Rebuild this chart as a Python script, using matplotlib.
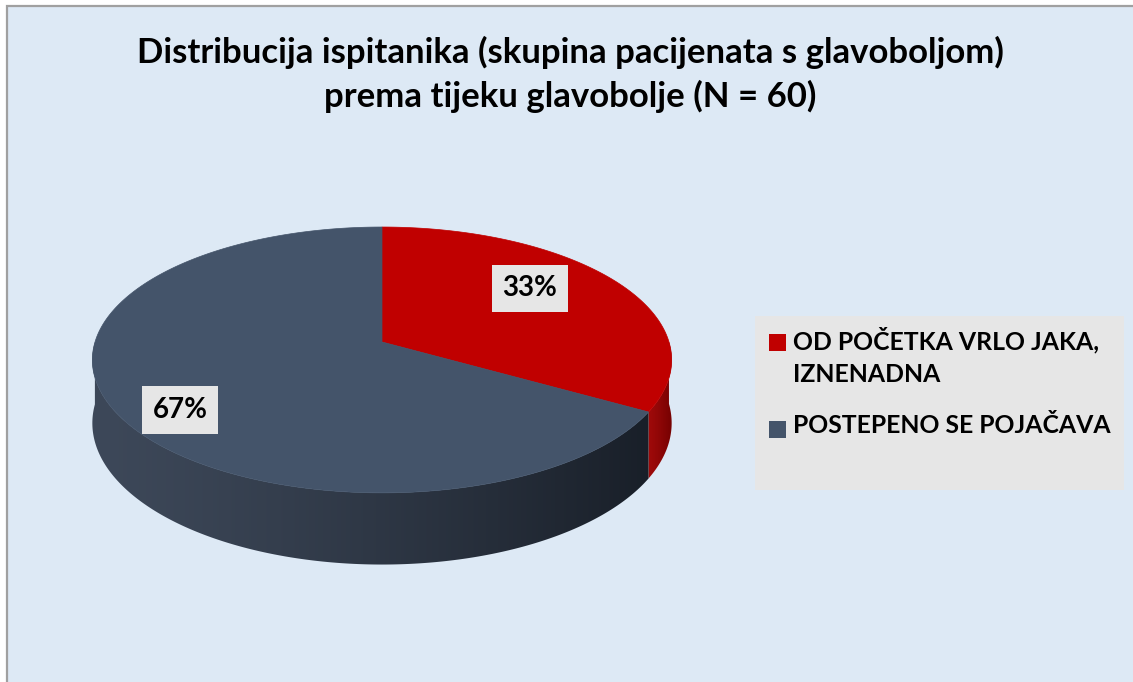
import numpy as np
import matplotlib
matplotlib.use('Agg')
import matplotlib.pyplot as plt
from matplotlib.patches import Polygon, Rectangle
from matplotlib.colors import to_rgb

# data
title = 'Distribucija ispitanika (skupina pacijenata s glavoboljom)\nprema tijeku glavobolje (N = 60)'
categories = ['OD POČETKA VRLO JAKA,\nIZNENADNA', 'POSTEPENO SE POJAČAVA']
counts = [20, 40]
colors = ['#c00000', '#44546a']
side_light = ['#a00a0a', '#3d4859']
side_dark = ['#6e0000', '#171d26']

FONT = 'Lato'
BG = '#dde9f5'

# 3d pie geometry (pixels)
CX, CY = 382, 342
A, B = 287, 130.5
P = 0.135
DEPTH = 62
LABEL_R = [0.62, 0.77]
LABEL_DY = [-15, 15]


def proj(theta, r=1.0, depth=0.0):
    z = r * np.sin(theta)
    s = 1.0 / (1.0 + P * z)
    x = CX + A * r * np.cos(theta) * s
    y = CY - B * r * np.sin(theta) * s + depth * s
    return x, y


def gradient(c1, c2, n=256):
    c1, c2 = np.array(to_rgb(c1)), np.array(to_rgb(c2))
    t = np.linspace(0, 1, n) ** 1.3
    return (c1[None, :] + (c2 - c1)[None, :] * t[:, None])[None, :, :]


fig = plt.figure(figsize=(11.33, 6.82), dpi=100)
fig.patch.set_facecolor('white')
ax = fig.add_axes([0, 0, 1, 1])
ax.set_xlim(0, 1133)
ax.set_ylim(682, 0)
ax.axis('off')

ax.add_patch(Rectangle((7, 6), 1140, 700, facecolor=BG, edgecolor='#a0a0a0', lw=1.6, zorder=0))

total = sum(counts)
fracs = [c / total for c in counts]
starts = []
a0 = np.pi / 2
for f in fracs:
    starts.append((a0, a0 - 2 * np.pi * f))
    a0 = a0 - 2 * np.pi * f

# sides (front half only), shaded left to right
for i, (t0, t1) in enumerate(starts):
    th = np.linspace(t0, t1, 600)
    th = th[np.sin(th) <= 0.001]
    if len(th) < 2:
        continue
    xt, yt = proj(th)
    xb, yb = proj(th, depth=DEPTH)
    pts = list(zip(xt, yt)) + list(zip(xb[::-1], yb[::-1]))
    poly = Polygon(pts, closed=True, facecolor='none', edgecolor='none')
    ax.add_patch(poly)
    if i == 0:
        ext = (xt.min() - 2, xt.max() + 2, 600, 300)
    else:
        ext = (CX - A - 5, CX + A + 5, 600, 300)
    im = ax.imshow(gradient(side_light[i], side_dark[i]), extent=ext,
                   aspect='auto', interpolation='bilinear', zorder=2)
    im.set_clip_path(poly)

ax.set_xlim(0, 1133)
ax.set_ylim(682, 0)

# top face
for i, (t0, t1) in enumerate(starts):
    th = np.linspace(t0, t1, 300)
    xs, ys = proj(th)
    pts = [(CX, CY)] + list(zip(xs, ys))
    ax.add_patch(Polygon(pts, closed=True, facecolor=colors[i], edgecolor=colors[i], lw=0.5, zorder=3))

# data labels
for i, (t0, t1) in enumerate(starts):
    mid = (t0 + t1) / 2
    lx, ly = proj(mid, r=LABEL_R[i])
    ax.text(lx, ly + LABEL_DY[i], '{:.0f}%'.format(100 * fracs[i]), ha='center', va='center',
            fontsize=20, fontweight='bold', family=FONT, color='black', zorder=5,
            bbox=dict(boxstyle='square,pad=0.38', facecolor='#e6e6e6', edgecolor='none'))

# title
ax.text(570, 74.5, title, ha='center', va='center', fontsize=25, fontweight='bold',
        family=FONT, color='black', linespacing=1.37)

# legend
ax.add_patch(Rectangle((755, 316), 369, 174, facecolor='#e6e6e6', edgecolor='none', zorder=1))
leg_y = [342, 429]
for i, lab in enumerate(categories):
    ax.add_patch(Rectangle((769, leg_y[i] - 8.5), 17, 17, facecolor=colors[i], edgecolor='none', zorder=2))
    ax.text(793, leg_y[i] - 15, lab, ha='left', va='top', fontsize=17.8, fontweight='bold',
            family=FONT, color='black', linespacing=1.5, zorder=2)

fig.savefig('out.png', dpi=100, facecolor='white')
